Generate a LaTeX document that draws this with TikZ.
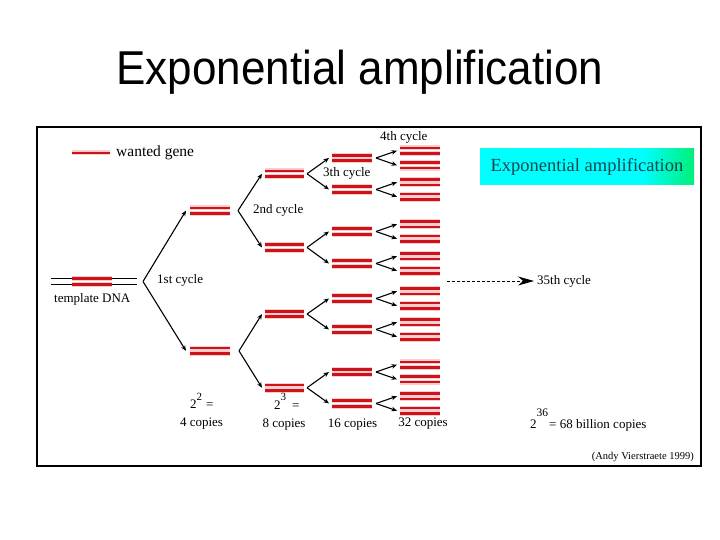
\documentclass[tikz,border=0pt]{standalone}
\usepackage{fontspec}
\setmainfont{Liberation Serif}
\newfontfamily\titlefont{Liberation Sans}
\usetikzlibrary{arrows.meta}
\definecolor{genered}{RGB}{205,18,28}
\definecolor{genehalo}{RGB}{250,205,205}
\definecolor{boxtext}{RGB}{20,70,75}
\definecolor{boxcyan}{RGB}{0,255,255}
\definecolor{boxgreen}{RGB}{0,240,120}
\pgfdeclarehorizontalshading{cyangreen}{100bp}{color(0bp)=(boxcyan); color(25bp)=(boxcyan); color(63bp)=(boxcyan); color(75bp)=(boxgreen); color(100bp)=(boxgreen)}
\tikzset{
  pairnode/.style={rectangle, inner sep=0pt, outer sep=0pt, minimum height=5.5pt, draw=none},
  halo/.style={draw=genehalo, line width=5pt},
  geneline/.style={draw=genered, line width=2.6pt},
  arr/.style={draw=black, line width=1.1pt, -{Stealth[length=5.5pt,width=4.5pt]}},
  lbl/.style={inner sep=0pt, font=\fontsize{13}{15}\selectfont},
}
\newcommand{\dnapair}[4]{%
  \node[pairnode, minimum width=#4pt] (#1) at (#2,#3) {};
  \draw[halo] (#1.north west) -- (#1.north east) (#1.south west) -- (#1.south east);
  \draw[geneline] (#1.north west) -- (#1.north east) (#1.south west) -- (#1.south east);
}
\begin{document}
\begin{tikzpicture}[x=1pt,y=-1pt]
\useasboundingbox (0,0) rectangle (720,540);
\fill[white] (0,0) rectangle (720,540);

% title
\node[font=\titlefont\fontsize{44}{48}\selectfont, anchor=base, inner sep=0pt] (title) at (360,85) {\scalebox{1}[1.08]{Exponential amplification}};

% frame
\draw[line width=2.5pt] (37,127) rectangle (701,466);

% cyan title box
\node[shading=cyangreen, minimum width=214pt, minimum height=36pt, inner sep=0pt] (tbox) at (587,167) {};
\node[inner sep=0pt, text=boxtext, font=\fontsize{18.5}{20}\selectfont] (tboxtext) at (tbox.center) {Exponential amplification};

% legend
\coordinate (lg1) at (72,153);
\coordinate (lg2) at (110,153);
\draw[halo] (lg1) -- (lg2);
\draw[geneline] (lg1) -- (lg2);
\node[inner sep=0pt, anchor=west, font=\fontsize{15.5}{17}\selectfont] (wg) at (116,153) {wanted gene};

% template DNA
\node[pairnode, minimum width=86pt] (tmpl) at (94,281.5) {};
\draw[black, line width=1pt] (tmpl.north west) -- (tmpl.north east) (tmpl.south west) -- (tmpl.south east);
\dnapair{p0}{92}{281.5}{40}
\node[lbl, anchor=west] (tdna) at (54,299) {template DNA};

% level 1
\dnapair{p1a}{210}{210.6}{40}
\dnapair{p1b}{210}{350.9}{40}
\coordinate (v0) at (143,281.5);
\draw[arr] (v0) -- ([xshift=-4pt]p1a.west);
\draw[arr] (v0) -- ([xshift=-4pt]p1b.west);

% level 2
\dnapair{s1}{284.5}{173.75}{39}
\dnapair{s2}{284.5}{247.5}{39}
\dnapair{s3}{284.5}{314}{39}
\dnapair{s4}{284.5}{387.75}{39}
\coordinate (v1a) at (238,210.6);
\coordinate (v1b) at (239,350.9);
\draw[arr] (v1a) -- ([xshift=-3pt]s1.west);
\draw[arr] (v1a) -- ([xshift=-3pt]s2.west);
\draw[arr] (v1b) -- ([xshift=-3pt]s3.west);
\draw[arr] (v1b) -- ([xshift=-3pt]s4.west);

% level 3 and 4
\foreach \i/\y in {1/158,2/189.5,3/231.5,4/263.5,5/298.5,6/329.5,7/372,8/403.5} {
  \dnapair{t\i}{352}{\y}{40}
  \dnapair{qa\i}{420}{\y-7.3}{40}
  \dnapair{qb\i}{420}{\y+7.3}{40}
  \coordinate (v3\i) at (376,\y);
  \draw[arr] (v3\i) -- ([xshift=-3pt]qa\i.west);
  \draw[arr] (v3\i) -- ([xshift=-3pt]qb\i.west);
}
\foreach \k/\a/\b in {1/1/2,2/3/4,3/5/6,4/7/8} {
  \coordinate (v2\k) at ([xshift=3pt]s\k.east);
  \draw[arr] (v2\k) -- ([xshift=-3pt]t\a.west);
  \draw[arr] (v2\k) -- ([xshift=-3pt]t\b.west);
}

% cycle labels
\node[lbl, anchor=west] (c1) at (157,280) {1st cycle};
\node[lbl, anchor=west] (c2) at (253,210) {2nd cycle};
\node[lbl, anchor=west] (c3) at (323,173) {3th cycle};
\node[lbl, anchor=west] (c4) at (380,137) {4th cycle};
\node[lbl, anchor=west] (c35) at (537,281) {35th cycle};
\coordinate (dstart) at (447,281);
\draw[line width=0.8pt, dash pattern=on 3pt off 2pt, -{Stealth[length=16pt,width=9pt]}, shorten >=3pt] (dstart) -- (c35.west);

% powers
\node[lbl, anchor=base west] (pw2) at (190,408.5) {2\raisebox{8pt}{\fontsize{11}{11}\selectfont 2}\hspace{4pt}=};
\node[lbl, anchor=base west] (pw3) at (274,409) {2\raisebox{9pt}{\fontsize{11}{11}\selectfont 3}\hspace{6pt}=};
\node[lbl, anchor=base west] (pw36) at (530,428) {2\raisebox{11.5pt}{\fontsize{11.5}{12}\selectfont 36}\hspace{1pt}= 68 billion copies};

% copies
\node[lbl] (cp4) at (201.5,424) {4 copies};
\node[lbl] (cp8) at (284,425) {8 copies};
\node[lbl] (cp16) at (352.5,425) {16 copies};
\node[lbl] (cp32) at (423,424) {32 copies};

% credit
\node[inner sep=0pt, anchor=east, font=\fontsize{10.5}{12}\selectfont] (credit) at (694,457) {(Andy Vierstraete 1999)};
\end{tikzpicture}
\end{document}
